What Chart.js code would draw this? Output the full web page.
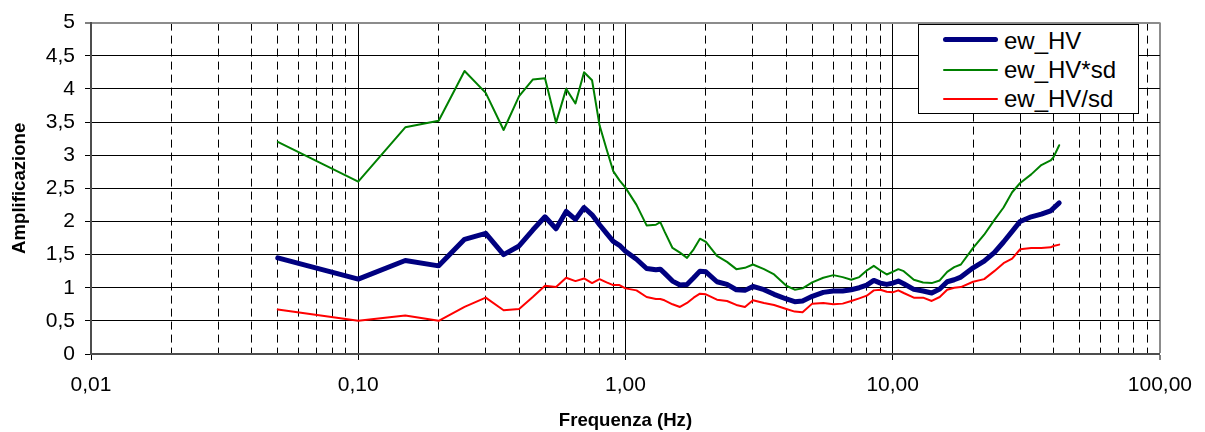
<!DOCTYPE html>
<html>
<head>
<meta charset="utf-8">
<script src="https://cdn.jsdelivr.net/npm/chart.js@4.4.0/dist/chart.umd.min.js"></script>
<style>
html,body{margin:0;padding:0;background:#fff;}
#wrap{position:relative;width:1205px;height:432px;overflow:hidden;}
#legend{position:absolute;left:918px;top:24px;width:219px;height:88px;border:1px solid #000;background:#fff;font-family:"Liberation Sans",Arial,sans-serif;font-size:24px;color:#000;}
.sw{position:absolute;left:24px;width:55px;}
.tx{position:absolute;left:85px;line-height:30px;height:30px;white-space:nowrap;}
</style>
</head>
<body>
<div id="wrap">
<canvas id="c" width="1205" height="432"></canvas>
<div id="legend"></div>
</div>
<script>
// ---- data ----
const freq = [0.05,0.1,0.15,0.2,0.25,0.3,0.35,0.4,0.45,0.5,0.55,0.6,0.65,0.7,0.75,0.8,0.85,0.9,0.95,1.0,
  1.1,1.2,1.3,1.35,1.4,1.5,1.6,1.7,1.8,1.9,2.0,2.2,2.4,2.6,2.8,3.0,3.3,3.6,4.0,4.3,4.6,5.0,5.5,6.0,6.5,7.0,7.5,
  8.0,8.5,9.0,9.5,10,10.5,11,12,13,14,15,16,17,18,20,22,24,26,28,30,33,36,39,40,42];
const ewHV = [1.45,1.13,1.41,1.33,1.73,1.82,1.50,1.63,1.87,2.07,1.89,2.15,2.03,2.21,2.10,1.95,1.82,1.70,1.64,1.55,
  1.43,1.29,1.27,1.28,1.22,1.10,1.04,1.05,1.15,1.25,1.24,1.09,1.05,0.97,0.96,1.02,0.97,0.90,0.83,0.79,0.80,0.87,0.93,0.95,0.95,0.97,1.00,
  1.04,1.11,1.07,1.05,1.07,1.10,1.06,0.975,0.95,0.92,0.98,1.09,1.12,1.16,1.30,1.40,1.53,1.69,1.85,2.00,2.07,2.11,2.16,2.20,2.28];
const ewHVtimesSd = [3.20,2.60,3.42,3.52,4.27,3.94,3.38,3.89,4.14,4.16,3.49,4.00,3.78,4.25,4.13,3.45,3.09,2.76,2.62,2.51,
  2.25,1.94,1.95,1.99,1.85,1.60,1.53,1.45,1.58,1.74,1.69,1.48,1.39,1.28,1.30,1.35,1.28,1.20,1.03,0.97,0.99,1.08,1.15,1.19,1.16,1.12,1.16,
  1.26,1.33,1.26,1.20,1.24,1.28,1.25,1.12,1.08,1.07,1.11,1.24,1.31,1.35,1.60,1.80,2.02,2.21,2.44,2.58,2.71,2.85,2.92,2.97,3.15];
const ewHVdivSd = [0.67,0.50,0.58,0.50,0.71,0.85,0.66,0.68,0.86,1.03,1.01,1.15,1.10,1.14,1.07,1.13,1.08,1.04,1.04,0.99,
  0.96,0.86,0.83,0.83,0.81,0.75,0.71,0.77,0.85,0.91,0.90,0.82,0.80,0.74,0.71,0.81,0.77,0.74,0.68,0.64,0.63,0.76,0.77,0.75,0.76,0.80,0.84,
  0.88,0.96,0.97,0.94,0.93,0.96,0.92,0.85,0.85,0.80,0.86,0.97,1.00,1.01,1.09,1.13,1.25,1.37,1.44,1.58,1.60,1.60,1.61,1.63,1.65];
const seriesNames = ['ew_HV','ew_HV*sd','ew_HV/sd'];
const xMajorTicks = [0.01,0.1,1,10,100];
const xTickLabels = ['0,01','0,10','1,00','10,00','100,00'];
const xMinorTicks = [0.02,0.03,0.04,0.05,0.06,0.07,0.08,0.09,
  0.2,0.3,0.4,0.5,0.6,0.7,0.8,0.9,
  2,3,4,5,6,7,8,9,
  20,30,40,50,60,70,80,90];
const yTickLabels = ['0','0,5','1','1,5','2','2,5','3','3,5','4','4,5','5'];

// ---- chart ----
const FONT = '"Liberation Sans", Arial, sans-serif';
const toXY = arr => freq.map((f, i) => ({x: f, y: arr[i]}));
const styles = [
  {color:'#000080', width:5},
  {color:'#008000', width:2},
  {color:'#FF0000', width:2}
];
const series = [ewHV, ewHVtimesSd, ewHVdivSd];

const chart = new Chart(document.getElementById('c'), {
  type: 'line',
  data: {
    datasets: series.map((s, i) => ({
      label: seriesNames[i],
      data: toXY(s),
      borderColor: styles[i].color,
      backgroundColor: styles[i].color,
      borderWidth: styles[i].width,
      pointRadius: 0,
      tension: 0,
      fill: false,
      borderJoinStyle: 'round',
      borderCapStyle: 'round',
      order: 3 - i
    }))
  },
  options: {
    responsive: false,
    animation: false,
    events: [],
    layout: {padding: {left: 0, right: 42, top: 19, bottom: 0}},
    plugins: {legend: {display: false}, tooltip: {enabled: false}},
    scales: {
      x: {
        type: 'logarithmic',
        position: 'bottom',
        min: 0.01, max: 100,
        afterBuildTicks: s => { s.ticks = xMajorTicks.map(v => ({value: v})); },
        afterFit: s => { s.height = 78; },
        ticks: {
          autoSkip: false, maxRotation: 0, minRotation: 0,
          padding: 13,
          color: '#000',
          font: {family: FONT, size: 21},
          callback: (v, i) => xTickLabels[i]
        },
        grid: {
          color: c => (c.tick && c.tick.value === 100) ? '#8c8c8c' : '#000',
          lineWidth: c => (c.tick && c.tick.value === 100) ? 2 : 1,
          tickColor: '#000', tickLength: 6, tickWidth: 1
        },
        border: {display: true, color: '#4d4d4d', width: 2},
        title: {display: true, text: 'Frequenza (Hz)', color: '#000',
          font: {family: FONT, size: 18.6, weight: 'bold'}, padding: {top: 0, bottom: 0}}
      },
      xMinor: {
        type: 'logarithmic',
        position: 'bottom',
        min: 0.01, max: 100,
        afterBuildTicks: s => { s.ticks = xMinorTicks.map(v => ({value: v})); },
        afterFit: s => { s.height = 0; },
        ticks: {display: false},
        grid: {color: '#000', lineWidth: 1, drawTicks: false},
        border: {display: false, dash: [8, 5]}
      },
      y: {
        type: 'linear',
        min: 0, max: 5,
        afterFit: s => { s.width = 91; },
        ticks: {
          stepSize: 0.5,
          padding: 10,
          color: '#000',
          font: {family: FONT, size: 21},
          callback: (v, i) => yTickLabels[i]
        },
        grid: {
          color: c => (c.tick && c.tick.value === 5) ? '#8c8c8c' : '#000',
          lineWidth: c => (c.tick && c.tick.value === 5) ? 2 : 1,
          tickColor: '#000', tickLength: 6, tickWidth: 1
        },
        border: {display: true, color: '#4d4d4d', width: 2},
        title: {display: true, text: 'Amplificazione', color: '#000',
          font: {family: FONT, size: 18.6, weight: 'bold'}, padding: {top: 9, bottom: 0}}
      }
    }
  }
});

// ---- legend (HTML, built from chart datasets) ----
const lg = document.getElementById('legend');
const swY = [14, 45, 74];
const txY = [1, 30, 59];
chart.data.datasets.forEach((d, i) => {
  const sw = document.createElement('div');
  sw.className = 'sw';
  sw.style.top = (swY[i] - d.borderWidth / 2) + 'px';
  sw.style.height = d.borderWidth + 'px';
  sw.style.background = d.borderColor;
  sw.style.borderRadius = (d.borderWidth / 2) + 'px';
  lg.appendChild(sw);
  const tx = document.createElement('div');
  tx.className = 'tx';
  tx.style.top = txY[i] + 'px';
  tx.textContent = d.label;
  lg.appendChild(tx);
});
</script>
</body>
</html>
